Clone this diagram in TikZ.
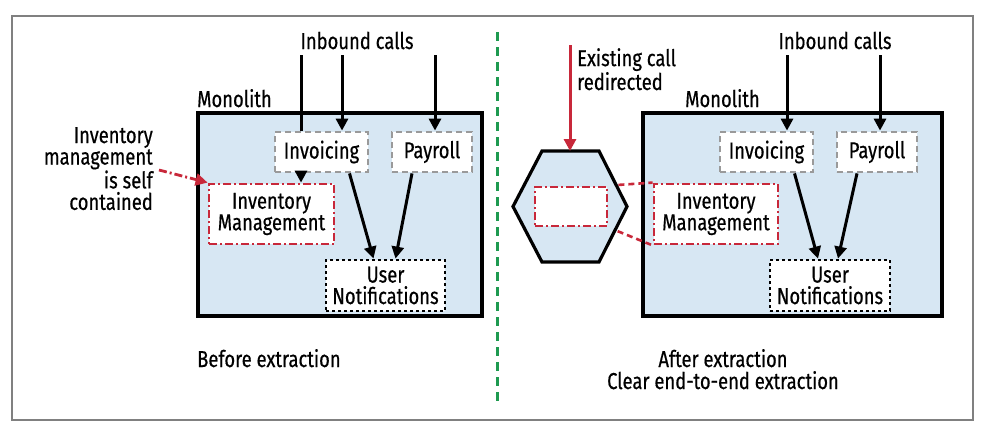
\documentclass[tikz,border=0pt]{standalone}
\usepackage{fontspec}
\setmainfont{Fira Sans}[FakeStretch=0.8,FakeBold=0.5]
\usetikzlibrary{arrows.meta}
\definecolor{mblue}{HTML}{D7E7F3}
\definecolor{mred}{HTML}{C8283A}
\definecolor{mgray}{HTML}{9A9A9A}
\definecolor{mgreen}{HTML}{1E9A50}
\definecolor{frame}{HTML}{808080}
\begin{document}
\begin{tikzpicture}[x=1pt,y=-1pt,
  font=\fontsize{23}{21.5}\selectfont,
  mono/.style={draw=black,line width=3.2pt,fill=mblue,inner sep=0pt},
  svc/.style={draw=mgray,line width=2.8pt,dash pattern=on 6pt off 4pt,fill=white,inner sep=0pt,align=center},
  inv/.style={draw=mred,line width=2.8pt,dash pattern=on 8pt off 3pt on 2pt off 3pt,fill=white,inner sep=0pt,align=center},
  note/.style={draw=black,line width=2.8pt,dash pattern=on 3pt off 3pt,fill=white,inner sep=0pt,align=center},
  arr/.style={line width=3pt,-{Triangle[length=12pt,width=12pt]}},
  plain/.style={line width=3pt},
  lbl/.style={inner sep=0pt}
]
\useasboundingbox (0,0) rectangle (984,429);
\draw[frame,line width=1.5pt] (12,16) rectangle (973,420);
\draw[mgreen,line width=3pt,dash pattern=on 9pt off 6pt] (497,32) -- (497,405);

% ---------------- left side ----------------
\node[mono,minimum width=284pt,minimum height=203pt] (mL) at (340,214.5) {};
\node[lbl,anchor=base west] (monoL) at (197,107) {Monolith};
\node[svc,minimum width=93pt,minimum height=40pt] (invL) at (321.5,152) {Invoicing};
\node[svc,minimum width=80pt,minimum height=40pt] (payL) at (432,152) {Payroll};
\node[inv,minimum width=125pt,minimum height=60pt] (imL) at (271.5,214) {Inventory\\Management};
\node[note,minimum width=119pt,minimum height=51pt] (unL) at (385.5,285.5) {User\\Notifications};
\node[lbl,anchor=base] (ibL) at (357,49) {Inbound calls};
\coordinate (a1) at (301,55);
\coordinate (a2) at (342,55);
\coordinate (a3) at (435,55);
\draw[plain] (a1) -- (a1 |- invL.north);
\draw[arr] (a2) -- (a2 |- invL.north);
\draw[arr] (a3) -- (a3 |- payL.north);
\draw[arr] (invL.south -| a1) -- (imL.north -| a1);
\draw[arr] ([xshift=28pt]invL.south) -- ([xshift=-12pt]unL.north);
\draw[arr] ([xshift=-20pt]payL.south) -- ([xshift=10pt]unL.north);
\node[lbl,anchor=north east,align=right] (selfc) at (153,127) {Inventory\\management\\is self\\contained};
\draw[mred,line width=2.8pt,dash pattern=on 8pt off 3pt on 2pt off 3pt,-{Triangle[length=12pt,width=12pt]}] (159,170) -- (imL.north west);
\node[lbl,anchor=base west] (before) at (197,367) {Before extraction};

% ---------------- right side ----------------
\node[mono,minimum width=299pt,minimum height=203pt] (mR) at (792.5,214.5) {};
\node[lbl,anchor=base west] (monoR) at (685,107) {Monolith};
\node[svc,minimum width=93pt,minimum height=40pt] (invR) at (766.5,152) {Invoicing};
\node[svc,minimum width=80pt,minimum height=40pt] (payR) at (877,152) {Payroll};
\node[inv,minimum width=124pt,minimum height=60pt] (imR) at (716,214) {Inventory\\Management};
\node[note,minimum width=120pt,minimum height=51pt] (unR) at (830,285.5) {User\\Notifications};
\node[lbl,anchor=base] (ibR) at (835,49) {Inbound calls};
\coordinate (b1) at (787,55);
\coordinate (b2) at (880,55);
\draw[arr] (b1) -- (b1 |- invR.north);
\draw[arr] (b2) -- (b2 |- payR.north);
\draw[arr] ([xshift=28pt]invR.south) -- ([xshift=-12pt]unR.north);
\draw[arr] ([xshift=-20pt]payR.south) -- ([xshift=8pt]unR.north);

% extracted service
\coordinate (h1) at (542,151);
\coordinate (h2) at (599,151);
\coordinate (h3) at (627,206.5);
\coordinate (h4) at (599,262);
\coordinate (h5) at (542,262);
\coordinate (h6) at (513,206.5);
\node[inv,minimum width=72pt,minimum height=39pt] (ex) at (571,206.5) {};
\draw[mred,line width=2.6pt,dash pattern=on 6pt off 4pt] (ex.north east) -- (imR.north west);
\draw[mred,line width=2.6pt,dash pattern=on 6pt off 4pt] (ex.south east) -- (imR.south west);
\draw[line width=3.2pt,fill=mblue,line join=miter] (h1) -- (h2) -- (h3) -- (h4) -- (h5) -- (h6) -- cycle;
\node[inv,minimum width=72pt,minimum height=39pt] (exi) at (571,206.5) {};
\coordinate (rtop) at (570,45);
\draw[mred,line width=3pt,-{Triangle[length=12pt,width=12pt]}] (rtop) -- (h1 -| rtop);
\node[lbl,anchor=north west,align=left] (exist) at (577,48) {Existing call\\redirected};
\node[lbl,anchor=base] (after) at (723,367) {After extraction};
\node[lbl,anchor=base] (clear) at (723,389) {Clear end-to-end extraction};
\end{tikzpicture}
\end{document}
